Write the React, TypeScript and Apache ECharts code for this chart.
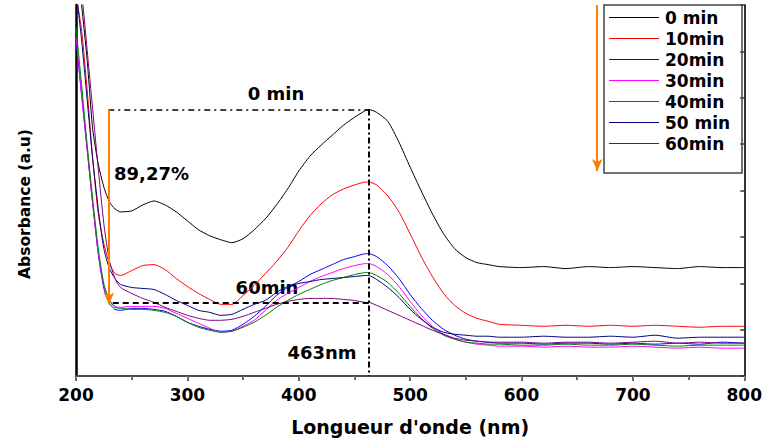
import React, { useEffect, useRef } from "react";
import * as echarts from "echarts";

const wavelengths = [200,205,210,215,220,225,230,235,240,250,260,270,280,290,300,310,320,330,340,350,360,370,380,390,400,410,420,430,440,450,460,463,470,480,490,500,510,520,530,540,550,560,570,580,600,620,640,660,680,700,720,740,760,780,800];

const min0 = [4.18,3.73,3.18,2.48,2.13,1.90,1.75,1.68,1.65,1.66,1.72,1.76,1.72,1.65,1.56,1.47,1.41,1.37,1.34,1.38,1.47,1.58,1.72,1.88,2.06,2.21,2.32,2.42,2.52,2.60,2.67,2.68,2.65,2.56,2.35,2.10,1.86,1.63,1.43,1.28,1.19,1.14,1.12,1.10,1.09,1.10,1.08,1.10,1.09,1.10,1.09,1.08,1.10,1.09,1.09];
const min10 = [3.83,3.48,2.88,2.18,1.63,1.33,1.13,1.03,1.01,1.06,1.11,1.12,1.07,0.98,0.90,0.83,0.77,0.72,0.72,0.81,0.91,1.03,1.15,1.29,1.46,1.61,1.73,1.82,1.88,1.92,1.95,1.95,1.92,1.81,1.65,1.43,1.20,1.00,0.83,0.71,0.63,0.58,0.55,0.52,0.51,0.50,0.51,0.50,0.51,0.50,0.51,0.50,0.49,0.50,0.50];
const min20 = [3.38,2.83,2.28,1.73,1.23,0.88,0.73,0.67,0.66,0.68,0.68,0.67,0.65,0.60,0.54,0.50,0.47,0.45,0.46,0.52,0.60,0.70,0.81,0.89,0.95,1.02,1.07,1.12,1.17,1.20,1.23,1.23,1.20,1.11,0.98,0.82,0.68,0.56,0.47,0.41,0.37,0.35,0.34,0.33,0.33,0.32,0.33,0.33,0.32,0.33,0.32,0.33,0.32,0.34,0.33];
const min30 = [3.41,2.83,2.28,1.73,1.23,0.90,0.76,0.70,0.69,0.70,0.70,0.70,0.68,0.63,0.58,0.53,0.48,0.44,0.45,0.50,0.56,0.66,0.76,0.83,0.89,0.95,1.00,1.04,1.08,1.11,1.13,1.13,1.10,1.02,0.90,0.75,0.61,0.50,0.42,0.37,0.34,0.32,0.31,0.30,0.30,0.29,0.30,0.29,0.29,0.30,0.29,0.28,0.29,0.28,0.28];
const min40 = [3.51,2.93,2.33,1.78,1.28,0.93,0.76,0.69,0.68,0.67,0.67,0.66,0.64,0.60,0.54,0.49,0.46,0.44,0.45,0.49,0.54,0.61,0.69,0.76,0.82,0.87,0.92,0.96,0.99,1.02,1.04,1.04,1.01,0.94,0.83,0.70,0.58,0.48,0.41,0.37,0.34,0.33,0.32,0.32,0.31,0.31,0.32,0.31,0.31,0.32,0.31,0.30,0.31,0.31,0.31];
const min50 = [3.88,3.38,2.78,2.18,1.68,1.28,1.08,0.98,0.92,0.89,0.88,0.87,0.82,0.76,0.71,0.66,0.64,0.61,0.62,0.67,0.72,0.76,0.84,0.90,0.93,0.95,0.97,0.98,0.99,1.00,1.01,1.01,0.97,0.89,0.79,0.67,0.57,0.49,0.44,0.42,0.41,0.40,0.40,0.39,0.39,0.40,0.39,0.39,0.40,0.39,0.41,0.38,0.39,0.39,0.39];
const min60 = [4.38,3.88,3.28,2.68,2.08,1.53,1.16,0.98,0.89,0.83,0.78,0.74,0.69,0.65,0.61,0.58,0.56,0.56,0.57,0.60,0.64,0.68,0.72,0.75,0.77,0.78,0.78,0.78,0.77,0.76,0.74,0.74,0.71,0.66,0.61,0.56,0.51,0.46,0.42,0.38,0.36,0.35,0.34,0.34,0.34,0.33,0.34,0.34,0.33,0.34,0.35,0.33,0.34,0.33,0.33];

const seriesNames = ["0 min", "10min", "20min", "30min", "40min", "50 min", "60min"];
const seriesValues = [min0, min10, min20, min30, min40, min50, min60];
const seriesColors = ["#000000", "#ff0000", "#0000ff", "#ff00ff", "#008000", "#000080", "#800080"];

const peakWavelength = 463;
const peakStart = 0; // index of "0 min"
const peakEnd = 6; // index of "60min"
const guideStartX = 229;
const arrowX2 = 668;
const xTicks = [200, 800];
const yRange = [0, 3.73];

const FONT = "'DejaVu Sans', 'Liberation Sans', Arial, sans-serif";

export default function App() {
  const ref = useRef<HTMLDivElement>(null);
  useEffect(() => {
    if (!ref.current) return;
    const chart = echarts.init(ref.current, undefined, { renderer: "svg" });
    const idx = wavelengths.indexOf(peakWavelength);
    const v0 = seriesValues[peakStart][idx];
    const v60 = seriesValues[peakEnd][idx];

    const lines: any[] = seriesNames.map((name, i) => ({
      name,
      type: "line",
      data: wavelengths.map((w, j) => [w, seriesValues[i][j]]),
      showSymbol: false,
      symbol: "none",
      smooth: 0.2,
      lineStyle: { width: 1, color: seriesColors[i] },
      itemStyle: { color: seriesColors[i] },
      clip: true,
      z: 3,
    }));

    lines.push({
      name: "guides",
      type: "line",
      data: [],
      markLine: {
        silent: true,
        symbol: "none",
        label: { show: false },
        animation: false,
        data: [
          [
            { coord: [guideStartX, v0], lineStyle: { color: "#000", width: 1.5, type: [6, 4, 2, 4] } },
            { coord: [peakWavelength, v0] },
          ],
          [
            { coord: [guideStartX + 4, v60], lineStyle: { color: "#000", width: 2, type: [6, 4] } },
            { coord: [peakWavelength, v60] },
          ],
          [
            { coord: [peakWavelength, v0], lineStyle: { color: "#000", width: 2, type: [6, 3, 2, 3] } },
            { coord: [peakWavelength, yRange[0]] },
          ],
        ],
      },
    });
    lines.push({
      name: "arrows",
      type: "line",
      data: [],
      markLine: {
        silent: true,
        symbol: ["none", "arrow"],
        symbolSize: [8, 12],
        label: { show: false },
        lineStyle: { color: "#ff8000", width: 2, type: "solid" },
        data: [
          [{ coord: [guideStartX + 0.5, v0] }, { coord: [guideStartX + 0.5, v60 - 0.02] }],
          [{ coord: [arrowX2, yRange[1]] }, { coord: [arrowX2, 2.06] }],
        ],
      },
    });

    chart.setOption({
      animation: false,
      backgroundColor: "#ffffff",
      textStyle: { fontFamily: FONT },
      grid: { left: 76, right: 20, top: 5, bottom: 63 },
      legend: {
        data: seriesNames,
        orient: "vertical",
        left: 609,
        top: 9,
        padding: 0,
        itemWidth: 50,
        itemHeight: 14,
        itemGap: 4,
        icon: "path://M0,6.5 L50,6.5 L50,7.5 L0,7.5 Z",
        textStyle: { fontFamily: FONT, fontWeight: "bold", fontSize: 17, color: "#000", padding: [0, 0, 0, 1] },
        selectedMode: false,
      },
      xAxis: [
        {
          type: "value",
          min: xTicks[0],
          max: xTicks[1],
          interval: 100,
          position: "bottom",
          name: "Longueur d'onde (nm)",
          nameLocation: "middle",
          nameGap: 41,
          nameTextStyle: { fontFamily: FONT, fontWeight: "bold", fontSize: 19, color: "#000" },
          axisLine: { lineStyle: { color: "#333", width: 2 } },
          axisTick: { show: true, length: 5, lineStyle: { color: "#333", width: 1.5 } },
          minorTick: { show: true, splitNumber: 2, length: 4, lineStyle: { color: "#333", width: 1.5 } },
          axisLabel: { fontFamily: FONT, fontWeight: "bold", fontSize: 17, color: "#000", margin: 10 },
          splitLine: { show: false },
        },
        {
          type: "value",
          min: xTicks[0],
          max: xTicks[1],
          interval: 50,
          position: "top",
          axisLine: { lineStyle: { color: "#555", width: 1.5 } },
          axisTick: { show: true, inside: true, length: 2, lineStyle: { color: "#888" } },
          axisLabel: { show: false },
          splitLine: { show: false },
        },
      ],
      yAxis: [
        {
          type: "value",
          min: yRange[0],
          max: yRange[1],
          position: "left",
          axisLine: { show: true, lineStyle: { color: "#000", width: 2.5 } },
          axisTick: { show: false },
          axisLabel: { show: false },
          splitLine: { show: false },
        },
        {
          type: "value",
          min: yRange[0],
          max: yRange[1],
          interval: yRange[1] / 8,
          position: "right",
          axisLine: { show: true, lineStyle: { color: "#333", width: 2 } },
          axisTick: { show: true, inside: true, length: 4, lineStyle: { color: "#333", width: 1.5 } },
          axisLabel: { show: false },
          splitLine: { show: false },
        },
      ],
      graphic: [
        {
          type: "rect",
          shape: { x: 604, y: 5, width: 138, height: 168 },
          style: { fill: "none", stroke: "#444", lineWidth: 1.5 },
          z: 10,
          silent: true,
        },
        {
          type: "text",
          x: 25,
          y: 204,
          rotation: Math.PI / 2,
          style: { text: "Absorbance (a.u)", font: `bold 15.5px ${FONT}`, fill: "#000", align: "center", verticalAlign: "middle" },
        },
        {
          type: "text",
          x: 276,
          y: 93,
          style: { text: "0 min", font: `bold 18px ${FONT}`, fill: "#000", align: "center", verticalAlign: "middle" },
        },
        {
          type: "text",
          x: 114,
          y: 173,
          style: { text: "89,27%", font: `bold 18px ${FONT}`, fill: "#000", align: "left", verticalAlign: "middle" },
        },
        {
          type: "text",
          x: 267,
          y: 287,
          style: { text: "60min", font: `bold 18px ${FONT}`, fill: "#000", align: "center", verticalAlign: "middle" },
        },
        {
          type: "text",
          x: 322,
          y: 352,
          style: { text: "463nm", font: `bold 18px ${FONT}`, fill: "#000", align: "center", verticalAlign: "middle" },
        },
      ],
      series: lines,
    });
    return () => chart.dispose();
  }, []);
  return <div ref={ref} style={{ position: "fixed", left: 0, top: 0, width: 765, height: 441, background: "#fff" }} />;
}
